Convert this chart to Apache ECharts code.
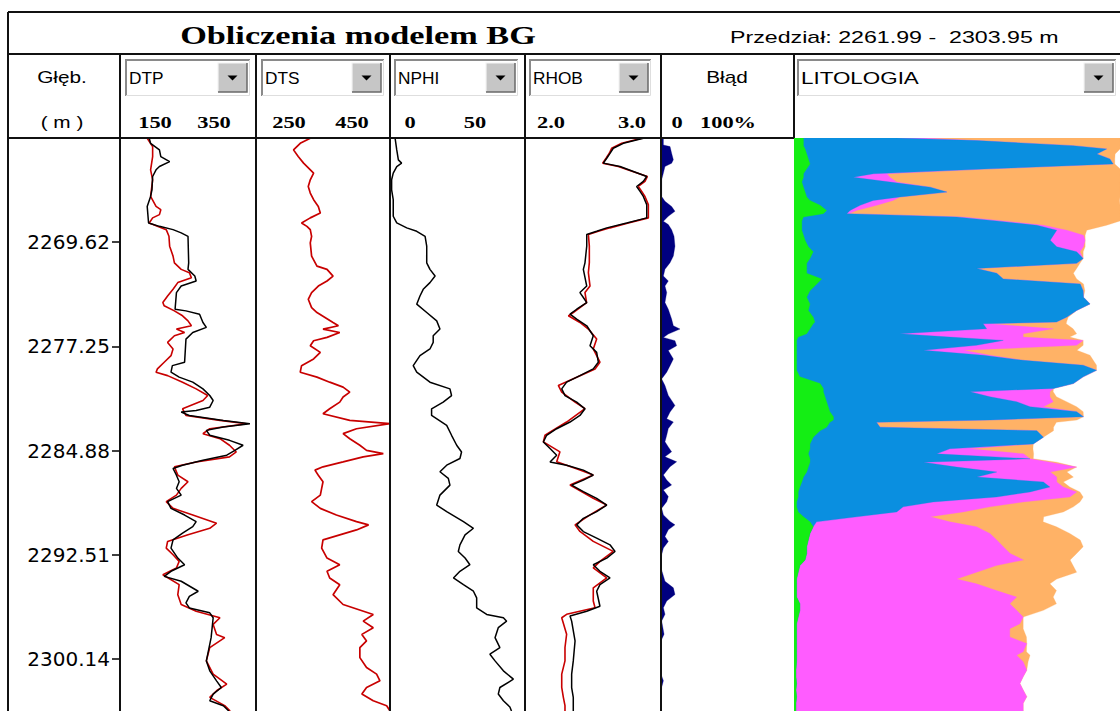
<!DOCTYPE html>
<html><head><meta charset="utf-8">
<script src="https://cdn.jsdelivr.net/npm/echarts@6/dist/echarts.min.js"></script>
<style>html,body{margin:0;padding:0;background:#fff;overflow:hidden}#c{width:1120px;height:711px}</style>
</head><body><div id="c"></div>
<script>
// ---------------- DATA ----------------
const titleText = 'Obliczenia modelem BG';
const intervalText = 'Przedział: 2261.99 -  2303.95 m';
const depthHeader = ['Głęb.', '( m )'];
const trackNames = ['DTP', 'DTS', 'NPHI', 'RHOB'];
const errorName = 'Błąd';
const lithoName = 'LITOLOGIA';
const scaleLabels = [['150', '350'], ['250', '450'], ['0', '50'], ['2.0', '3.0'], ['0', '100%']];
const axisRanges = [[150, 350], [250, 450], [0, 50], [2.0, 3.0], [0, 100], [0, 100]];
const depthTop = 2261.99, depthBottom = 2303.95;
const depthTicks = [2269.62, 2277.25, 2284.88, 2292.51, 2300.14];

// [value, depth]
const dtpBlack = [[193,2262.01],[195,2262.38],[208,2262.86],[210,2263.35],[223,2263.72],[208,2264.08],[203,2264.32],[198,2264.81],[197,2265.78],[195,2266.27],[190,2267.00],[192,2268.21],[208,2268.46],[228,2268.70],[240,2268.94],[250,2269.19],[251,2271.13],[250,2271.61],[260,2272.10],[262,2272.46],[240,2272.83],[233,2273.31],[231,2274.53],[247,2274.65],[267,2274.89],[272,2275.50],[277,2275.86],[257,2276.23],[247,2276.72],[245,2278.41],[227,2278.66],[225,2279.14],[237,2279.50],[257,2279.87],[272,2280.36],[282,2280.85],[287,2281.21],[282,2281.70],[262,2281.94],[240,2282.06],[252,2282.31],[302,2282.67],[341,2282.91],[302,2283.15],[277,2283.40],[282,2283.76],[311,2284.13],[331,2284.49],[319,2284.86],[307,2285.22],[272,2285.59],[242,2285.95],[228,2286.19],[233,2286.68],[237,2287.16],[233,2287.65],[240,2288.14],[220,2288.62],[225,2289.11],[245,2289.60],[262,2290.08],[257,2290.45],[242,2290.93],[228,2291.42],[225,2292.02],[235,2292.75],[245,2293.24],[225,2293.72],[215,2294.09],[240,2294.45],[265,2295.18],[252,2295.55],[247,2296.03],[252,2296.40],[282,2296.76],[287,2297.12],[284,2298.58],[277,2300.28],[282,2301.01],[292,2301.74],[299,2302.23],[287,2302.71],[282,2303.20],[302,2303.56],[310,2303.95]];
const dtpRed = [[190,2262.01],[198,2262.62],[198,2263.35],[195,2264.32],[198,2265.05],[195,2266.27],[203,2267.00],[210,2267.24],[208,2267.60],[198,2267.84],[193,2268.21],[205,2268.46],[218,2268.70],[222,2269.19],[223,2269.91],[228,2270.64],[230,2271.13],[240,2271.61],[252,2271.85],[255,2272.22],[235,2272.58],[228,2273.07],[220,2273.56],[213,2274.04],[215,2274.28],[230,2274.65],[242,2275.01],[250,2275.38],[255,2275.74],[233,2275.98],[245,2276.23],[230,2276.47],[220,2276.96],[228,2277.44],[225,2277.93],[215,2278.41],[205,2278.90],[203,2279.14],[220,2279.39],[242,2279.87],[262,2280.36],[279,2280.85],[272,2281.21],[242,2281.82],[247,2282.31],[297,2282.67],[336,2282.91],[282,2283.28],[272,2283.64],[297,2284.01],[311,2284.49],[321,2284.98],[311,2285.34],[262,2285.71],[230,2286.07],[235,2286.68],[250,2287.16],[240,2287.65],[233,2288.14],[218,2288.62],[228,2289.11],[257,2289.60],[292,2290.20],[282,2290.57],[250,2291.05],[220,2291.54],[218,2292.02],[228,2292.51],[237,2292.99],[233,2293.48],[213,2293.97],[237,2294.70],[235,2295.43],[240,2296.15],[262,2296.64],[297,2297.12],[287,2297.61],[292,2298.34],[304,2298.58],[282,2299.31],[277,2300.28],[287,2301.25],[307,2301.98],[292,2302.47],[282,2302.95],[304,2303.56],[312,2303.95]];
const dts = [[331,2262.01],[316,2262.38],[306,2262.86],[313,2263.35],[321,2263.83],[336,2264.56],[331,2265.05],[328,2265.54],[331,2266.02],[336,2266.51],[343,2267.00],[346,2267.48],[331,2267.84],[318,2268.21],[326,2268.46],[331,2268.70],[333,2269.19],[331,2269.67],[333,2270.64],[341,2271.37],[356,2271.61],[365,2272.10],[356,2272.46],[343,2272.83],[333,2273.31],[328,2273.80],[333,2274.41],[341,2274.77],[353,2275.13],[365,2275.50],[373,2275.74],[350,2275.98],[375,2276.23],[356,2276.59],[336,2276.84],[331,2277.20],[346,2277.69],[336,2278.17],[318,2278.66],[316,2279.14],[341,2279.50],[360,2279.87],[380,2280.23],[390,2280.60],[380,2280.96],[375,2281.33],[360,2281.82],[350,2282.18],[390,2282.67],[450,2282.91],[400,2283.28],[380,2283.64],[390,2284.01],[405,2284.49],[415,2284.86],[440,2285.10],[410,2285.34],[380,2285.71],[350,2286.07],[338,2286.31],[343,2286.68],[350,2287.16],[348,2287.65],[346,2288.14],[333,2288.62],[346,2289.11],[370,2289.60],[400,2290.08],[418,2290.32],[400,2290.69],[375,2291.05],[350,2291.42],[348,2292.02],[356,2292.75],[375,2293.24],[356,2293.72],[360,2294.21],[375,2294.70],[365,2295.43],[380,2296.15],[425,2296.88],[410,2297.37],[425,2297.85],[408,2298.34],[415,2298.82],[405,2299.31],[405,2300.04],[415,2300.77],[430,2301.25],[435,2301.74],[415,2302.23],[408,2302.71],[425,2303.20],[445,2303.56],[450,2303.95]];
const nphi = [[1.9,2262.01],[2.5,2262.86],[3.1,2263.59],[4.3,2263.83],[2.5,2264.08],[1.2,2264.56],[0.6,2265.05],[0.6,2265.78],[1.2,2266.51],[1.2,2267.72],[2.5,2268.21],[6.2,2268.57],[9.9,2268.82],[13.0,2269.19],[13.6,2269.91],[13.6,2271.13],[14.8,2271.61],[16.7,2272.10],[14.8,2272.58],[12.3,2273.07],[11.1,2273.56],[9.9,2274.16],[13.6,2274.77],[17.3,2275.38],[18.5,2275.98],[16.0,2276.47],[16.0,2276.96],[14.8,2277.44],[11.1,2277.93],[8.6,2278.66],[9.9,2279.14],[14.8,2279.87],[22.2,2280.36],[22.8,2280.85],[19.7,2281.33],[15.4,2281.82],[15.4,2282.31],[21.0,2283.03],[22.8,2283.76],[24.7,2284.49],[26.5,2284.98],[25.9,2285.46],[21.0,2285.95],[18.5,2286.43],[21.6,2286.92],[22.2,2287.41],[18.5,2288.14],[17.3,2288.87],[21.0,2289.35],[27.2,2290.08],[30.9,2290.57],[27.8,2291.05],[25.9,2291.78],[25.3,2292.27],[27.8,2292.75],[29.6,2293.24],[25.9,2293.72],[23.5,2294.21],[27.2,2294.70],[30.9,2295.18],[32.1,2295.67],[32.1,2296.40],[35.8,2296.88],[42.0,2297.12],[43.2,2297.37],[40.1,2297.85],[38.9,2298.58],[40.7,2299.31],[37.0,2299.79],[38.9,2300.28],[42.0,2301.01],[45.7,2301.62],[40.7,2302.23],[40.1,2302.71],[42.0,2303.20],[44.4,2303.66],[45.0,2303.95]];
const rhobBlack = [[2.870,2262.01],[2.723,2262.38],[2.649,2262.74],[2.625,2263.11],[2.601,2263.47],[2.576,2263.83],[2.699,2264.08],[2.797,2264.44],[2.895,2264.81],[2.870,2265.17],[2.821,2265.54],[2.846,2265.90],[2.870,2266.27],[2.895,2266.87],[2.895,2267.84],[2.748,2268.21],[2.601,2268.57],[2.527,2268.82],[2.454,2269.06],[2.454,2269.91],[2.441,2271.13],[2.429,2271.61],[2.454,2272.83],[2.404,2273.31],[2.429,2273.67],[2.454,2274.04],[2.380,2274.53],[2.331,2274.89],[2.380,2275.26],[2.454,2275.74],[2.502,2276.47],[2.478,2277.20],[2.527,2277.69],[2.539,2278.41],[2.502,2278.90],[2.404,2279.39],[2.306,2279.87],[2.270,2280.36],[2.294,2280.85],[2.380,2281.33],[2.441,2281.82],[2.404,2282.31],[2.331,2282.79],[2.233,2283.28],[2.159,2283.76],[2.135,2284.25],[2.184,2284.73],[2.233,2285.22],[2.184,2285.71],[2.306,2285.95],[2.429,2286.31],[2.502,2286.68],[2.429,2287.04],[2.343,2287.41],[2.429,2287.89],[2.527,2288.38],[2.601,2288.87],[2.527,2289.35],[2.429,2289.84],[2.380,2290.32],[2.429,2290.81],[2.527,2291.29],[2.625,2291.78],[2.662,2292.27],[2.601,2292.75],[2.502,2293.24],[2.551,2293.72],[2.625,2294.21],[2.551,2294.70],[2.527,2295.18],[2.551,2296.28],[2.454,2296.64],[2.331,2297.00],[2.343,2297.37],[2.368,2298.82],[2.355,2300.28],[2.343,2301.25],[2.343,2302.23],[2.355,2302.95],[2.355,2303.56],[2.355,2303.95]];
const rhobRed = [[2.858,2262.01],[2.711,2262.38],[2.637,2262.74],[2.620,2263.11],[2.596,2263.47],[2.571,2263.84],[2.686,2264.08],[2.792,2264.44],[2.900,2264.81],[2.882,2265.17],[2.833,2265.54],[2.858,2265.90],[2.882,2266.27],[2.907,2266.87],[2.907,2267.84],[2.760,2268.21],[2.625,2268.57],[2.539,2268.82],[2.466,2269.06],[2.473,2269.91],[2.473,2271.12],[2.466,2271.85],[2.478,2272.83],[2.441,2273.31],[2.453,2274.04],[2.355,2274.77],[2.319,2275.01],[2.404,2275.50],[2.466,2275.98],[2.527,2276.71],[2.502,2277.44],[2.551,2278.41],[2.515,2278.90],[2.380,2279.51],[2.245,2280.11],[2.270,2280.60],[2.368,2281.33],[2.441,2281.81],[2.306,2282.79],[2.147,2283.76],[2.135,2284.24],[2.257,2284.97],[2.233,2285.70],[2.404,2286.31],[2.502,2286.67],[2.331,2287.40],[2.502,2288.37],[2.601,2288.86],[2.478,2289.59],[2.368,2290.32],[2.404,2290.80],[2.502,2291.53],[2.649,2292.26],[2.551,2292.99],[2.502,2293.47],[2.601,2294.20],[2.502,2294.93],[2.502,2295.90],[2.515,2296.39],[2.306,2296.87],[2.270,2297.12],[2.306,2298.33],[2.294,2299.30],[2.294,2300.28],[2.270,2301.25],[2.270,2302.22],[2.282,2302.95],[2.294,2303.56],[2.294,2303.95]];
const bladPct = [[1.8,2262.01],[1.8,2262.50],[6.8,2262.62],[8.0,2263.11],[9.3,2263.59],[8.0,2263.84],[3.0,2264.08],[1.8,2264.56],[0.5,2265.05],[0.5,2266.27],[3.0,2266.63],[8.0,2267.00],[10.5,2267.36],[5.5,2267.72],[1.8,2268.09],[5.5,2268.33],[8.0,2268.70],[9.8,2269.18],[10.5,2269.91],[9.3,2270.64],[6.8,2271.12],[3.0,2271.61],[1.8,2272.10],[5.5,2272.46],[3.0,2272.83],[4.3,2273.31],[3.0,2274.04],[5.5,2274.53],[8.0,2275.25],[9.3,2275.74],[14.3,2275.98],[5.5,2276.35],[1.8,2276.59],[10.5,2276.83],[11.8,2277.20],[5.5,2277.56],[9.3,2278.17],[6.8,2278.66],[4.3,2279.14],[0.5,2279.63],[3.0,2280.11],[5.5,2280.84],[10.5,2281.57],[6.8,2282.06],[4.3,2282.54],[9.3,2282.79],[5.5,2283.27],[4.3,2283.76],[3.0,2284.24],[5.5,2284.61],[8.0,2284.97],[3.0,2285.34],[11.8,2285.70],[6.8,2286.06],[1.8,2286.67],[4.3,2287.04],[8.0,2287.40],[1.8,2287.77],[5.5,2288.25],[4.3,2288.62],[0.5,2289.10],[1.8,2289.59],[6.8,2290.07],[10.5,2290.32],[5.5,2290.68],[3.0,2291.17],[5.5,2291.53],[1.8,2292.02],[0.5,2292.50],[0,2293.47],[3.0,2294.45],[9.3,2294.93],[10.5,2295.42],[4.3,2295.90],[1.8,2296.39],[3.0,2296.87],[0.5,2297.36],[2.3,2298.33],[0,2298.82],[0,2300.03],[0,2301.25],[1.8,2301.73],[0.5,2302.22],[0,2303.19],[0,2303.95]];

// lithology, percent of each component per depth
const lithoDepth = [2261.99,2262.18,2262.55,2262.79,2263.16,2263.52,2263.89,2264.25,2264.61,2264.86,2265.22,2265.59,2265.95,2266.31,2266.56,2266.92,2267.29,2267.53,2267.77,2268.06,2268.38,2268.74,2269.11,2269.47,2269.96,2270.32,2270.81,2271.17,2271.54,2271.90,2272.31,2272.68,2273.17,2273.65,2274.14,2274.62,2275.11,2275.47,2275.59,2275.96,2276.32,2276.57,2276.81,2277.17,2277.54,2277.90,2278.27,2278.63,2279.00,2279.48,2279.97,2280.33,2280.57,2280.94,2281.30,2281.67,2282.03,2282.40,2282.64,2282.81,2283.17,2283.42,2283.90,2284.39,2284.75,2285.12,2285.48,2285.73,2286.09,2286.45,2286.82,2287.18,2287.55,2287.91,2288.28,2288.64,2289.00,2289.37,2289.73,2290.10,2290.46,2290.95,2291.43,2291.92,2292.41,2292.89,2293.30,2293.79,2294.28,2294.64,2295.13,2295.61,2296.10,2296.58,2297.07,2297.56,2297.92,2298.53,2299.01,2299.62,2299.86,2300.35,2300.96,2301.44,2301.93,2302.41,2302.90,2303.39,2303.95];
const lithoGreen = [2.9,2.9,2.9,3.4,3.9,4.4,4.9,3.9,2.9,2.9,2.4,2.9,3.4,3.9,4.9,8.0,10.0,9.0,2.9,2.4,2.4,2.4,2.9,3.4,4.4,5.9,4.9,3.9,3.9,3.9,8.5,7.0,4.9,3.9,4.9,4.4,5.9,6.4,5.9,4.9,3.9,1.3,0.8,0.8,0.8,0.8,0.8,0.8,0.8,1.8,8.0,9.0,9.0,9.5,10.0,10.5,11.0,12.1,12.1,11.0,10.0,8.0,5.9,4.9,4.9,4.4,4.9,4.9,4.4,3.9,2.9,2.4,1.8,1.3,1.3,0.8,0.8,1.3,2.9,4.9,5.9,4.9,4.4,3.9,3.9,3.4,1.8,1.3,0.8,0.8,0.8,0.8,1.8,1.8,1.3,0.8,0.8,0.8,0.8,0.8,0.8,0.8,0.6,0.6,0.8,0.6,0.8,0.6,0.6];
const lithoBlue = [28.6,53.2,82.8,92.5,89.0,92.5,93.0,56.2,21.5,15.3,27.1,38.9,43.5,28.6,19.4,12.3,7.2,7.2,47.0,59.8,72.1,78.2,76.7,75.2,76.2,80.8,83.8,82.8,52.1,58.3,55.7,80.8,83.8,84.9,85.9,82.3,77.7,74.1,52.1,54.2,28.6,46.5,63.4,55.2,38.9,57.3,69.5,87.9,92.0,86.9,77.7,70.6,45.0,50.6,58.3,61.9,75.7,76.7,48.1,14.3,16.4,66.5,70.6,68.5,42.9,39.4,67.5,34.8,45.5,58.3,53.2,74.1,76.7,71.1,60.8,41.9,32.7,30.2,16.4,2.0,0,0,0,0,0,0,0,0,0,0,0,0,0,0,0,0,0,0,0,0,0,0,0,0,0,0,0,0,0];
const lithoPink = [8.2,0,0,0,0,0,0,0,4.1,11.2,2.0,0,0,0,6.1,5.1,2.0,0.5,2.0,2.0,2.0,3.1,9.2,10.7,8.2,1.0,0,0,0,0,0,0,0,0,0,0,0,0,2.0,20.4,37.8,22.5,24.5,30.7,12.3,2.0,0,0,0,0,0,0,24.5,18.4,11.2,4.1,0,0,0,0,0,0,0,0,6.1,26.6,0,38.9,36.8,16.4,24.5,4.1,4.1,14.3,22.5,27.6,26.6,20.4,22.5,40.9,50.1,55.2,57.8,60.3,62.4,67.0,60.3,54.7,49.1,55.2,61.3,67.5,64.4,66.5,69.0,68.5,65.4,65.4,70.6,69.5,67.5,69.5,70.8,69.7,68.5,69.7,70.6,69.7,69.7];
const lithoOrange = [60.3,44.0,14.3,4.1,5.6,1.5,0.5,39.9,71.6,70.6,68.5,58.3,53.2,67.5,69.5,74.6,80.8,83.3,48.1,35.8,19.4,6.1,0.5,0,0.5,1.0,0,1.0,30.7,23.5,22.5,1.0,0.5,0,0,0,0.5,3.1,23.5,6.1,16.4,14.3,0,2.0,34.8,30.7,21.5,4.1,0,0,0,0,1.0,2.0,4.1,10.2,2.0,0,26.6,55.2,53.2,5.1,0,0,19.4,3.1,1.0,2.0,0,5.1,5.1,2.0,2.0,1.0,4.1,17.4,25.6,30.7,34.8,28.6,24.5,24.5,25.6,24.5,20.4,14.3,23.5,30.7,30.7,22.5,18.4,11.2,14.3,8.2,0,1.0,4.1,5.1,0,1.0,4.1,1.5,0,0,0,0,0,0,0];

// ---------------- LAYOUT / STYLE ----------------
const cols = [8, 120, 256, 390, 525, 661, 794, 1120];
const yTop = 12, yRow1 = 54, yPlot = 138, plotH = 576, yEnd = 711;
const lineCol = '#111';
const sansFont = '"Liberation Sans", Arial, sans-serif';
const serifFont = '"Liberation Serif", "Times New Roman", serif';
const colors = {green: '#14ee14', blue: '#0a8fe0', pink: '#ff5cff', orange: '#ffb266', navy: '#00007f', red: '#c80000'};

const chart = echarts.init(document.getElementById('c'), null, {renderer: 'svg', width: 1120, height: 711});

const grids = [], xAxes = [], yAxes = [];
for (let i = 0; i < 6; i++) {
  grids.push({left: cols[i + 1], top: yPlot, width: cols[i + 2] - cols[i + 1], height: plotH, show: false});
  xAxes.push({type: 'value', gridIndex: i, min: axisRanges[i][0], max: axisRanges[i][1], show: false});
  const ya = {type: 'value', gridIndex: i, inverse: true, min: depthTop, max: depthBottom, show: i === 0,
    splitLine: {show: false}, axisLine: {show: false}};
  if (i === 0) {
    ya.position = 'left';
    ya.axisTick = {show: true, customValues: depthTicks, length: 8, inside: false, lineStyle: {color: '#000', width: 1.5}};
    ya.axisLabel = {show: true, customValues: depthTicks, formatter: v => v.toFixed(2), color: '#000',
      fontFamily: '"DejaVu Sans", sans-serif', fontSize: 20, margin: 10};
  }
  yAxes.push(ya);
}

function lineSeries(idx, data, color, w) {
  return {type: 'line', xAxisIndex: idx, yAxisIndex: idx, data: data, showSymbol: false, symbol: 'none',
    lineStyle: {color: color, width: w}, clip: true, z: 5, silent: true, animation: false};
}
function polySeries(idx, pts, color, z) {
  return {type: 'custom', xAxisIndex: idx, yAxisIndex: idx, coordinateSystem: 'cartesian2d', clip: true, z: z,
    silent: true, animation: false, data: [[pts[0][0], pts[0][1]]],
    renderItem: function (params, api) {
      return {type: 'polygon', shape: {points: pts.map(p => api.coord(p))}, style: {fill: color, stroke: color, lineWidth: 0.3}};
    }};
}

const series = [
  lineSeries(0, dtpRed, colors.red, 1.6),
  lineSeries(0, dtpBlack, '#000', 1.5),
  lineSeries(1, dts, colors.red, 1.7),
  lineSeries(2, nphi, '#000', 1.5),
  lineSeries(3, rhobRed, colors.red, 1.6),
  lineSeries(3, rhobBlack, '#000', 1.5)
];
// Blad filled from left edge
const bladPoly = [[0, bladPct[0][1]]].concat(bladPct, [[0, bladPct[bladPct.length - 1][1]]]);
series.push(polySeries(4, bladPoly, colors.navy, 3));
// lithology cumulative (painter's order)
const comps = [lithoGreen, lithoBlue, lithoPink, lithoOrange];
const compColors = [colors.green, colors.blue, colors.pink, colors.orange];
for (let k = 3; k >= 0; k--) {
  const pts = lithoDepth.map((d, i) => {
    let s = 0; for (let j = 0; j <= k; j++) s += comps[j][i];
    return [s, d];
  });
  const poly = [[0, lithoDepth[0]]].concat(pts, [[0, lithoDepth[lithoDepth.length - 1]]]);
  series.push(polySeries(5, poly, compColors[k], 2 + (3 - k) * 0.1));
}

// ---------------- HEADER GRAPHICS ----------------
const g = [];
function L(x1, y1, x2, y2, w, c) { g.push({type: 'line', z: 100, silent: true, shape: {x1, y1, x2, y2}, style: {stroke: c || lineCol, lineWidth: w || 2}}); }
function T(text, x, y, font, align, sx) {
  g.push({type: 'text', z: 110, silent: true, x: x, y: y, scaleX: sx || 1,
    style: {text: text, x: 0, y: 0, font: font, fill: '#000', textAlign: align || 'center', textVerticalAlign: 'middle'}});
}
function PL(points, c, w, z) { g.push({type: 'polyline', z: z || 60, silent: true, shape: {points}, style: {stroke: c, lineWidth: w, fill: null}}); }
function dropdown(x0, x1, label, sx) {
  const y0 = 59, y1 = 96;
  g.push({type: 'rect', z: 50, silent: true, shape: {x: x0, y: y0, width: x1 - x0, height: y1 - y0}, style: {fill: '#fff'}});
  PL([[x0 + 1, y1], [x0 + 1, y0 + 1], [x1, y0 + 1]], '#8a8a8a', 2);
  PL([[x0 + 1, y1 - 0.5], [x1 - 0.5, y1 - 0.5], [x1 - 0.5, y0 + 1]], '#dedede', 1);
  const bw = 29, bx = x1 - bw - 3, by = y0 + 4, bh = y1 - y0 - 8;
  g.push({type: 'rect', z: 61, silent: true, shape: {x: bx, y: by, width: bw, height: bh}, style: {fill: '#c6c6c6'}});
  PL([[bx, by + bh], [bx, by], [bx + bw, by]], '#f4f4f4', 1.2, 62);
  PL([[bx, by + bh], [bx + bw, by + bh], [bx + bw, by]], '#6a6a6a', 1.5, 62);
  const cx = bx + bw / 2, cy = by + bh / 2;
  g.push({type: 'polygon', z: 63, silent: true, shape: {points: [[cx - 5, cy - 2], [cx + 5, cy - 2], [cx, cy + 3]]}, style: {fill: '#000'}});
  T(label, x0 + 4, (y0 + y1) / 2 + 1, '16px ' + sansFont, 'left', sx);
}

// frame
L(cols[0], yTop, 1120, yTop, 2);
L(cols[0], yRow1, 1120, yRow1, 2);
L(cols[0], yPlot, cols[6], yPlot, 2);
L(cols[0], yTop, cols[0], yEnd, 2);
for (let i = 1; i <= 5; i++) L(cols[i], yRow1, cols[i], yEnd, 2);
L(cols[6], yRow1, cols[6], yPlot, 2);

// texts
T(titleText, 358, 35, 'bold 25px ' + serifFont, 'center', 1.37);
T(intervalText, 730, 37, '16px ' + sansFont, 'left', 1.45);
T(depthHeader[0], 62, 77, '16px ' + sansFont, 'center', 1.3);
T(depthHeader[1], 62, 122, '16px ' + sansFont, 'center', 1.3);
const boxes = [[125, 250], [261, 384], [394, 518], [529, 651]];
trackNames.forEach((n, i) => dropdown(boxes[i][0], boxes[i][1], n, 1.08));
dropdown(797, 1116, lithoName, 1.4);
T(errorName, 727, 77, '16px ' + sansFont, 'center', 1.3);
const scalePos = [[155, 214], [289, 352], [410, 475], [551, 632], [677, 728]];
scaleLabels.forEach((pair, i) => {
  T(pair[0], scalePos[i][0], 122, 'bold 17px ' + serifFont, 'center', 1.32);
  T(pair[1], scalePos[i][1], 122, 'bold 17px ' + serifFont, 'center', 1.32);
});

chart.setOption({
  animation: false,
  backgroundColor: '#fff',
  grid: grids, xAxis: xAxes, yAxis: yAxes,
  series: series,
  graphic: {elements: g}
});
</script>
</body></html>
